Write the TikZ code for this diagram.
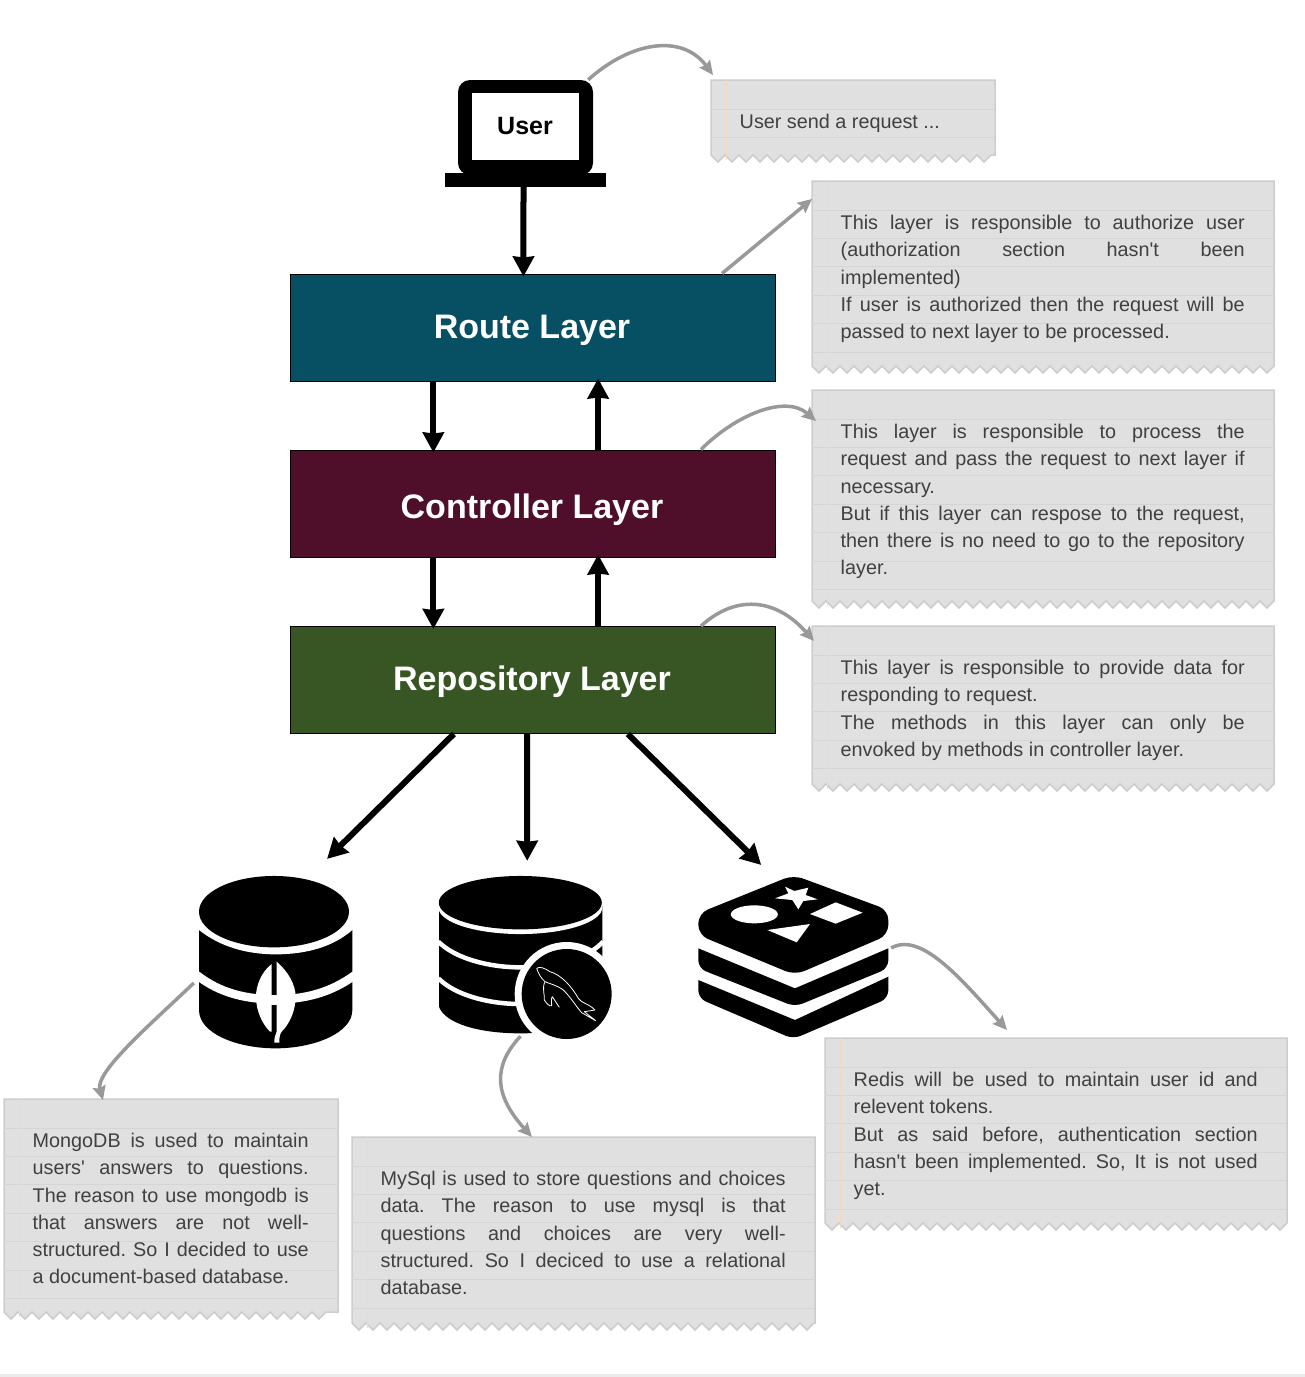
\documentclass[tikz,border=0pt]{standalone}
\usepackage{fontspec}
\setmainfont{Liberation Sans}[Ligatures=TeXOff]
\usetikzlibrary{calc,arrows.meta}
\definecolor{noteFill}{HTML}{E0E0E0}
\definecolor{noteEdge}{HTML}{CDCDCD}
\definecolor{noteRule}{HTML}{D5D5D5}
\definecolor{noteMargin}{HTML}{F5D9BD}
\definecolor{noteText}{HTML}{404040}
\definecolor{linkGrey}{HTML}{999999}
\definecolor{routeCol}{HTML}{074F63}
\definecolor{ctrlCol}{HTML}{4F0F2A}
\definecolor{repoCol}{HTML}{375623}
\tikzset{
  layerbox/.style={draw=black,line width=1pt,minimum width=485pt,minimum height=107pt,inner sep=0pt,
    text=white,font=\bfseries\fontsize{34}{40}\selectfont},
  flowarrow/.style={line width=6pt,shorten >=-3pt,-{Stealth[length=20pt,width=21pt,inset=1pt]}},
  notearrow/.style={draw=linkGrey,line width=3.5pt,-{Stealth[length=14pt,width=13pt,inset=2pt]},color=linkGrey},
  notetext/.style={anchor=north west,inner sep=0pt,text=noteText,align=left,font=\fontsize{19.8}{27.2}\selectfont}
}
\newcommand{\jl}[1]{\makebox[\nw pt][s]{#1}}
\newcommand{\fl}{\leavevmode\spaceskip=0pt\xspaceskip=0pt\frenchspacing\rule{0pt}{15pt}}
\newcommand{\ttl}[2]{\raisebox{#1}[0pt][0pt]{\makebox[0pt]{\hspace*{-2pt}#2}}}
% name, x0, y0, x1, y1 (straight bottom), text
\newcommand{\notebox}[6]{%
  \pgfmathtruncatemacro{\nt}{(#4-#2)/14-1}%
  \pgfmathsetmacro{\nw}{#4-#2-58}%
  \filldraw[fill=noteFill,draw=noteEdge,line width=1.5pt,line join=miter]
    (#2,#3) -- (#2,#5)
    \foreach \i in {0,...,\nt} { -- ({#2+14*\i+7},{#5+7}) -- ({#2+14*\i+14},#5) }
    -- (#4,#5) -- (#4,#3) -- cycle;
  \pgfmathsetmacro{\ya}{#3+29}\pgfmathsetmacro{\yb}{#3+57.4}%
  \foreach \yy in {\ya,\yb,...,#5} { \draw[noteRule,line width=1pt] (#2,\yy) -- (#4,\yy); }
  \draw[noteMargin,line width=1pt] ({#2+15},#3) -- ({#2+15},{#5+5});
  \pgfmathsetmacro{\nbw}{#4-#2}\pgfmathsetmacro{\nbh}{#5-#3}%
  \node[inner sep=0pt,anchor=north west,minimum width=\nbw pt,minimum height=\nbh pt] (#1) at (#2,#3) {};
  \node[notetext,text width=\nw pt] (#1t) at ({#2+28.5},{#3+33.5}) {\fl #6};
}
\begin{document}
\begin{tikzpicture}[x=1pt,y=-1pt]
\useasboundingbox (0,0) rectangle (1305,1377);
\fill[white] (0,0) rectangle (1305,1377);
\fill[black!8] (0,1374) rectangle (1305,1377);

% notes
\notebox{nuser}{711}{80}{995}{155}{User send a request ...}
\notebox{nroute}{812}{181}{1274}{366}{\jl{This layer is responsible to authorize user}\\
\jl{(authorization section hasn't been}\\
implemented)\\
\jl{If user is authorized then the request will be}\\
passed to next layer to be processed.}
\notebox{nctrl}{812}{390}{1274}{601}{\jl{This layer is responsible to process the}\\
\jl{request and pass the request to next layer if}\\
necessary.\\
\jl{But if this layer can respose to the request,}\\
\jl{then there is no need to go to the repository}\\
layer.}
\notebox{nrepo}{812}{626}{1274}{784}{\jl{This layer is responsible to provide data for}\\
responding to request.\\
\jl{The methods in this layer can only be}\\
envoked by methods in controller layer.}
\notebox{nmongo}{4}{1099}{338}{1312}{\jl{MongoDB is used to maintain}\\
\jl{users' answers to questions.}\\
\jl{The reason to use mongodb is}\\
\jl{that answers are not well-}\\
\jl{structured. So I decided to use}\\
a document-based database.}
\notebox{nmysql}{352}{1137}{815}{1323}{\jl{MySql is used to store questions and choices}\\
\jl{data. The reason to use mysql is that}\\
\jl{questions and choices are very well-}\\
\jl{structured. So I deciced to use a relational}\\
database.}
\notebox{nredis}{825}{1038}{1287}{1223}{\jl{Redis will be used to maintain user id and}\\
relevent tokens.\\
\jl{But as said before, authentication section}\\
\jl{hasn't been implemented. So, It is not used}\\
yet.}

% layers
\node[layerbox,fill=routeCol] (route) at (533,327.5) {\ttl{-10.8pt}{Route Layer}};
\node[layerbox,fill=ctrlCol] (ctrl) at (533,503.5) {\ttl{-14.8pt}{Controller Layer}};
\node[layerbox,fill=repoCol] (repo) at (533,680) {\ttl{-10.8pt}{Repository Layer}};

% user laptop
\node[inner sep=0pt,minimum width=161pt,minimum height=107pt] (user) at (525.5,133.5) {};
\fill[black,rounded corners=12pt] (458,80) rectangle (593,175);
\fill[white] (472,93) rectangle (579,160);
\fill[black] (445,173) rectangle (606,187);
\node[inner sep=0pt,font=\bfseries\fontsize{25}{30}\selectfont] (usertext) at (525,126) {User};

% icon holders
\node[inner sep=0pt,minimum width=154pt,minimum height=172pt] (mongo) at (276,962) {};
\node[inner sep=0pt,minimum width=173pt,minimum height=162pt] (mysql) at (525.5,957) {};
\node[inner sep=0pt,minimum width=190pt,minimum height=164pt] (redis) at (793,957) {};

% MongoDB icon
\begin{scope}[shift={(180,860)},x=0.33333pt,y=-0.33333pt]
  \fill[black] (57,210) -- (57,450) .. controls (57,520) and (170,565) .. (287,565)
     .. controls (400,565) and (517,520) .. (517,450) -- (517,210) -- cycle;
  \fill[white] (50,100) -- (50,205) -- (57,210) .. controls (120,260) and (200,283) .. (287,283)
     .. controls (380,283) and (460,260) .. (517,210) -- (525,205) -- (525,100) -- cycle;
  \fill[black] (282,155) ellipse [x radius=75pt,y radius=35.7pt];
  \draw[white,line width=8.5pt] (50,345) .. controls (120,400) and (200,418) .. (287,418)
     .. controls (370,418) and (450,400) .. (525,345);
  \fill[white] (275,312) .. controls (245,335) and (228,375) .. (228,410)
     .. controls (228,450) and (245,490) .. (270,515) -- (275,515) -- cycle;
  \fill[white] (290,305) .. controls (325,335) and (347,375) .. (347,410)
     .. controls (347,450) and (330,490) .. (305,515) .. controls (298,525) and (298,535) .. (298,548)
     -- (283,548) .. controls (283,535) and (285,525) .. (290,515) -- cycle;
  \fill[white] (270,408) rectangle (295,435);
\end{scope}

% MySQL icon
\begin{scope}[shift={(425,860)},x=0.33333pt,y=-0.33333pt]
  \fill[black] (42,138) -- (42,440) .. controls (60,490) and (160,520) .. (286,520)
     .. controls (420,520) and (530,490) .. (532,440) -- (532,138) -- cycle;
  \fill[white] (286,142) ellipse [x radius=82pt,y radius=26.7pt];
  \fill[black] (286,128) ellipse [x radius=81.5pt,y radius=26.7pt];
  \draw[white,line width=4.5pt] (40,245) .. controls (90,295) and (190,322) .. (286,322)
     .. controls (390,322) and (490,295) .. (534,245);
  \draw[white,line width=4.5pt] (40,355) .. controls (90,405) and (190,432) .. (286,432);
  \fill[white] (425,402) circle (52pt);
  \fill[black] (425,402) circle (45pt);
  \draw[white,line width=0.8pt,line join=round]
    (335,325) .. controls (345,318) and (360,325) .. (375,335)
    .. controls (410,345) and (440,380) .. (460,415) .. controls (470,430) and (490,430) .. (510,450)
    -- (478,455) -- (512,482) -- (470,458) .. controls (450,435) and (440,415) .. (415,390)
    .. controls (395,375) and (370,370) .. (360,365) .. controls (348,355) and (340,340) .. (335,325);
  \draw[white,line width=0.8pt,line join=round]
    (360,365) .. controls (350,385) and (360,405) .. (358,420) .. controls (365,430) and (372,440) .. (380,437)
    .. controls (380,425) and (378,415) .. (382,410) -- (403,442);
\end{scope}

% Redis icon
\begin{scope}[shift={(685,865)},x=0.33333pt,y=-0.33333pt]
  \fill[black] (40,345) -- (330,465) -- (610,335) [rounded corners=8pt] -- (610,400) -- (325,522) -- (40,400) [sharp corners] -- cycle;
  \fill[black] (40,250) -- (330,370) -- (610,250) [rounded corners=8pt] -- (610,310) -- (330,425) -- (40,310) [sharp corners] -- cycle;
  \fill[black,rounded corners=10pt] (40,210) -- (40,145) -- (325,30) -- (610,135) -- (610,210) -- (330,330) -- cycle;
  \fill[white] (208,148) ellipse [x radius=23.5pt,y radius=9pt];
  \fill[white] (300,65) -- (328,78) -- (370,68) -- (362,90) -- (398,103) -- (355,108) -- (340,133) -- (322,105) -- (270,100) -- (310,85) -- cycle;
  \fill[white] (452,112) -- (533,143) -- (452,176) -- (375,147) -- cycle;
  \fill[white] (375,177) -- (335,232) -- (247,195) -- cycle;
\end{scope}

% flow arrows
\draw[flowarrow] ($(user.south)+(-2,0)$) -- ($(route.north west)!0.4804!(route.north east)$);
\draw[flowarrow] ($(route.south west)!0.295!(route.south east)$) -- ($(ctrl.north west)!0.295!(ctrl.north east)$);
\draw[flowarrow] ($(ctrl.north west)!0.634!(ctrl.north east)$) -- ($(route.south west)!0.634!(route.south east)$);
\draw[flowarrow] ($(ctrl.south west)!0.295!(ctrl.south east)$) -- ($(repo.north west)!0.295!(repo.north east)$);
\draw[flowarrow] ($(repo.north west)!0.634!(repo.north east)$) -- ($(ctrl.south west)!0.634!(ctrl.south east)$);
\draw[flowarrow] ($(repo.south west)!0.337!(repo.south east)$) -- ($(mongo.north east)+(-24,-19)$);
\draw[flowarrow] ($(repo.south west)!0.488!(repo.south east)$) -- ($(mysql.north)+(1.7,-18)$);
\draw[flowarrow] ($(repo.south west)!0.695!(repo.south east)$) -- ($(redis.north)+(-34,-12)$);

% note arrows
\draw[notearrow] ($(user.north east)+(-18,0)$) .. controls +(42,-38) and +(-31,-42) .. ($(nuser.north west)+(2,-5)$);
\draw[notearrow] ($(route.north east)+(-54,0)$) -- ($(nroute.north west)+(0,18)$);
\draw[notearrow] ($(ctrl.north east)+(-75,0)$) .. controls +(34,-34) and +(-31,-27) .. ($(nctrl.north west)+(4,31)$);
\draw[notearrow] ($(repo.north east)+(-75,0)$) .. controls +(34,-31) and +(-39,-44) .. ($(nrepo.north west)+(2,15)$);
\draw[notearrow] ($(mongo.west)+(-5,21)$) .. controls +(-44,42) and +(-8,-28) .. ($(nmongo.north west)+(99,1)$);
\draw[notearrow] ($(mysql.south)+(-5,-2)$) .. controls +(-28,30) and +(-38,-42) .. ($(nmysql.north west)+(180,0)$);
\draw[notearrow] ($(redis.east)+(3,-9)$) .. controls +(30,-17) and +(-45,-50) .. ($(nredis.north west)+(182,-8)$);
\end{tikzpicture}
\end{document}
